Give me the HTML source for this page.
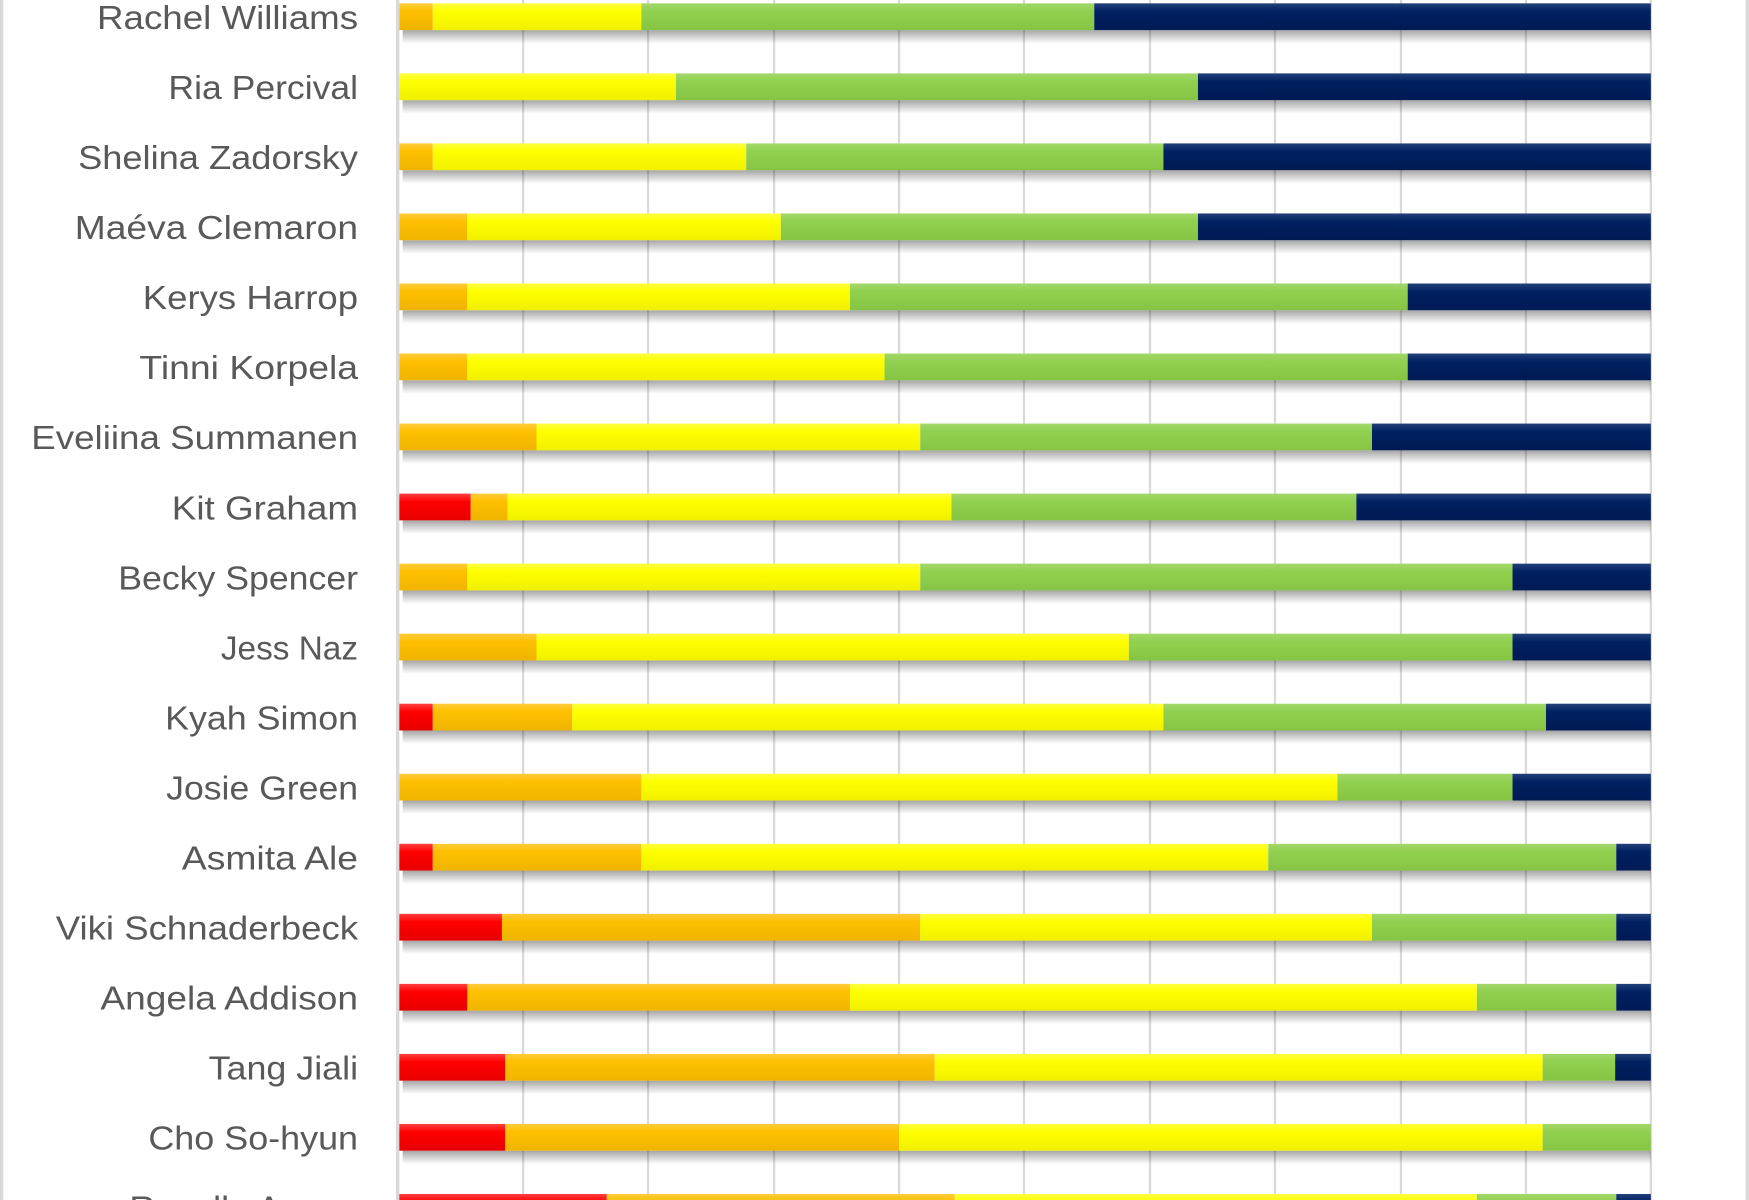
<!DOCTYPE html>
<html><head><meta charset="utf-8"><style>
html,body{margin:0;padding:0;background:#fff;width:1749px;height:1200px;overflow:hidden}
svg{display:block}
text{font-family:"Liberation Sans",sans-serif;fill:#595959;font-size:29.5px}
</style></head><body>
<svg width="1749" height="1200" viewBox="0 0 1568 1076" preserveAspectRatio="none" xmlns="http://www.w3.org/2000/svg">
<defs>
<linearGradient id="gR" x1="0" y1="0" x2="0" y2="1"><stop offset="0" stop-color="#ff4040"/><stop offset="0.3" stop-color="#ff0000"/><stop offset="1" stop-color="#e80000"/></linearGradient>
<linearGradient id="gO" x1="0" y1="0" x2="0" y2="1"><stop offset="0" stop-color="#ffcc3a"/><stop offset="0.3" stop-color="#ffc000"/><stop offset="1" stop-color="#f0b400"/></linearGradient>
<linearGradient id="gY" x1="0" y1="0" x2="0" y2="1"><stop offset="0" stop-color="#ffff40"/><stop offset="0.3" stop-color="#ffff00"/><stop offset="1" stop-color="#f0f000"/></linearGradient>
<linearGradient id="gG" x1="0" y1="0" x2="0" y2="1"><stop offset="0" stop-color="#a2d86a"/><stop offset="0.3" stop-color="#92d050"/><stop offset="1" stop-color="#86c444"/></linearGradient>
<linearGradient id="gN" x1="0" y1="0" x2="0" y2="1"><stop offset="0" stop-color="#23407a"/><stop offset="0.3" stop-color="#002060"/><stop offset="1" stop-color="#001a55"/></linearGradient>
<linearGradient id="gS" x1="0" y1="0" x2="0" y2="1"><stop offset="0" stop-color="#000" stop-opacity="0.35"/><stop offset="1" stop-color="#000" stop-opacity="0"/></linearGradient>
</defs>
<rect x="0" y="0" width="3" height="1076" fill="#d9d9d9"/>
<rect x="1565" y="0" width="3" height="1076" fill="#d9d9d9"/>
<g stroke="#d9d9d9" stroke-width="2">
<line x1="469" y1="0" x2="469" y2="1076"/><line x1="581" y1="0" x2="581" y2="1076"/><line x1="694" y1="0" x2="694" y2="1076"/><line x1="806" y1="0" x2="806" y2="1076"/><line x1="918" y1="0" x2="918" y2="1076"/><line x1="1031" y1="0" x2="1031" y2="1076"/><line x1="1143" y1="0" x2="1143" y2="1076"/><line x1="1256" y1="0" x2="1256" y2="1076"/><line x1="1368" y1="0" x2="1368" y2="1076"/><line x1="1480" y1="0" x2="1480" y2="1076"/>
</g>
<rect x="355" y="0" width="3" height="1076" fill="#d9d9d9"/>
<g id="bars"></g>
<g text-anchor="end">
<text x="321" y="26" textLength="234" lengthAdjust="spacingAndGlyphs">Rachel Williams</text>
<text x="321" y="88.8" textLength="170" lengthAdjust="spacingAndGlyphs">Ria Percival</text>
<text x="321" y="151.6" textLength="251" lengthAdjust="spacingAndGlyphs">Shelina Zadorsky</text>
<text x="321" y="214.4" textLength="254" lengthAdjust="spacingAndGlyphs">Maéva Clemaron</text>
<text x="321" y="277.2" textLength="193" lengthAdjust="spacingAndGlyphs">Kerys Harrop</text>
<text x="321" y="340" textLength="196" lengthAdjust="spacingAndGlyphs">Tinni Korpela</text>
<text x="321" y="402.8" textLength="293" lengthAdjust="spacingAndGlyphs">Eveliina Summanen</text>
<text x="321" y="465.6" textLength="167" lengthAdjust="spacingAndGlyphs">Kit Graham</text>
<text x="321" y="528.4" textLength="215" lengthAdjust="spacingAndGlyphs">Becky Spencer</text>
<text x="321" y="591.2" textLength="123" lengthAdjust="spacingAndGlyphs">Jess Naz</text>
<text x="321" y="654" textLength="173" lengthAdjust="spacingAndGlyphs">Kyah Simon</text>
<text x="321" y="716.8" textLength="172" lengthAdjust="spacingAndGlyphs">Josie Green</text>
<text x="321" y="779.6" textLength="158" lengthAdjust="spacingAndGlyphs">Asmita Ale</text>
<text x="321" y="842.4" textLength="271" lengthAdjust="spacingAndGlyphs">Viki Schnaderbeck</text>
<text x="321" y="905.2" textLength="231" lengthAdjust="spacingAndGlyphs">Angela Addison</text>
<text x="321" y="968" textLength="134" lengthAdjust="spacingAndGlyphs">Tang Jiali</text>
<text x="321" y="1030.8" textLength="188" lengthAdjust="spacingAndGlyphs">Cho So-hyun</text>
<text x="321" y="1093.6" textLength="205" lengthAdjust="spacingAndGlyphs">Rosella Ayane</text>
</g>
<script>
var rows=[
[['O',388],['Y',575],['G',981],['N',1480]],
[['Y',606],['G',1074],['N',1480]],
[['O',388],['Y',669],['G',1043],['N',1480]],
[['O',419],['Y',700],['G',1074],['N',1480]],
[['O',419],['Y',762],['G',1262],['N',1480]],
[['O',419],['Y',793],['G',1262],['N',1480]],
[['O',481],['Y',825],['G',1230],['N',1480]],
[['R',422],['O',455],['Y',853],['G',1216],['N',1480]],
[['O',419],['Y',825],['G',1356],['N',1480]],
[['O',481],['Y',1012],['G',1356],['N',1480]],
[['R',388],['O',513],['Y',1043],['G',1386],['N',1480]],
[['O',575],['Y',1199],['G',1356],['N',1480]],
[['R',388],['O',575],['Y',1137],['G',1449],['N',1480]],
[['R',450],['O',825],['Y',1230],['G',1449],['N',1480]],
[['R',419],['O',762],['Y',1324],['G',1449],['N',1480]],
[['R',453],['O',838],['Y',1383],['G',1448],['N',1480]],
[['R',453],['O',806],['Y',1383],['G',1480]],
[['R',544],['O',856],['Y',1324],['G',1449],['N',1480]]];
var ns='http://www.w3.org/2000/svg',g=document.getElementById('bars');
function r(x,y,w,h,f){var e=document.createElementNS(ns,'rect');e.setAttribute('x',x);e.setAttribute('y',y);e.setAttribute('width',w);e.setAttribute('height',h);e.setAttribute('fill',f);g.appendChild(e);}
rows.forEach(function(s,i){var y=3+62.8*i,x=358;
r(361,y+24,1119,12,'url(#gS)');
s.forEach(function(p){r(x,y,p[1]-x,24,'url(#g'+p[0]+')');x=p[1];});});
</script>
</svg>
</body></html>
